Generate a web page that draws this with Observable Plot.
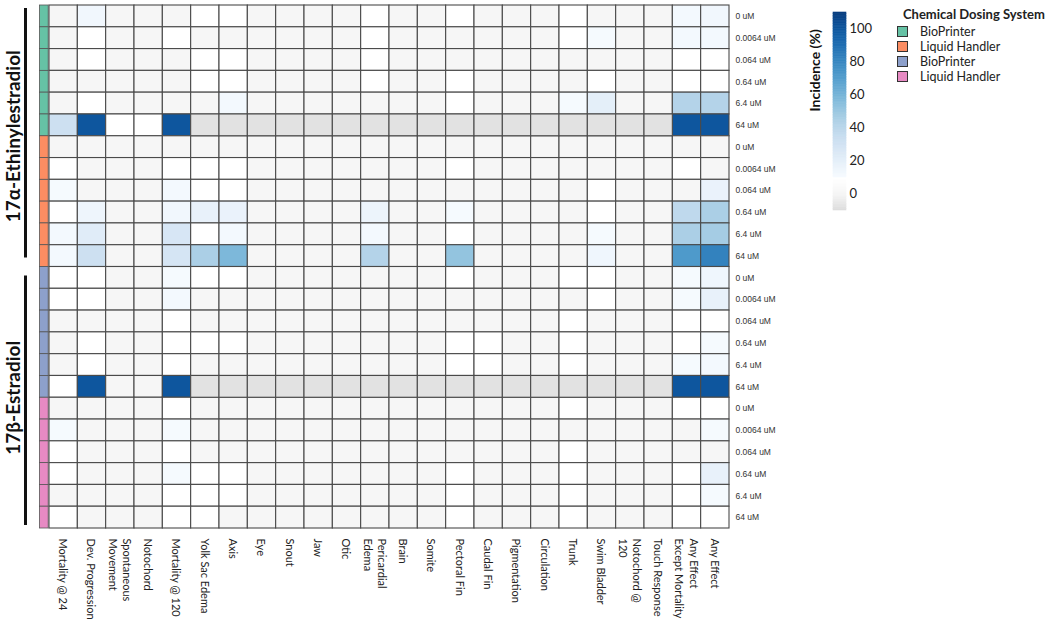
<!DOCTYPE html>
<html><head><meta charset="utf-8">
<script src="https://cdn.jsdelivr.net/npm/d3@7"></script>
<script src="https://cdn.jsdelivr.net/npm/@observablehq/plot@0.6"></script>
<style>
body{margin:0;background:#fff;}
#wrap{position:relative;width:1050px;height:623px;font-family:Lato,sans-serif;overflow:hidden;}
#wrap > *{position:absolute;}
</style></head><body><div id="wrap"></div>
<script>
// ---------- data ----------
const endpoints = ["Mortality @ 24","Dev. Progression","Spontaneous\nMovement","Notochord","Mortality @ 120",
  "Yolk Sac Edema","Axis","Eye","Snout","Jaw","Otic","Pericardial\nEdema","Brain","Somite","Pectoral Fin",
  "Caudal Fin","Pigmentation","Circulation","Trunk","Swim Bladder","Notochord @\n120","Touch Response",
  "Any Effect\nExcept Mortality","Any Effect"];
const doses = ["0 uM","0.0064 uM","0.064 uM","0.64 uM","6.4 uM","64 uM"];
const chemicals = ["17α-Ethinylestradiol","17β-Estradiol"];
const systems = ["BioPrinter","Liquid Handler","BioPrinter","Liquid Handler"];
const systemColors = ["#66c2a5","#fc8d62","#8da0cb","#e78ac3"];
const N = null; // not assessed (shown grey)
const ee2BioPrinter = [
  [0,13,0,0,0,10,10,0,0,0,0,10, 0,0,10,0,0,0,10,0,0,0,12,13],
  [0,10,0,0,10,0,0,0,0,0,0,10, 0,0,0,0,0,0,10,11,0,0,12,12],
  [0,10,0,0,0,10,10,0,0,0,0,10, 0,0,0,0,0,0,0,0,0,0,10,10],
  [0,0,0,0,0,10,10,0,0,0,0,10, 0,0,10,0,0,0,0,10,0,0,10,10],
  [0,10,0,0,0,0,12,0,0,0,0,0, 0,0,10,0,0,0,11,20,0,0,42,42],
  [32,100,10,10,100,N,N,N,N,N,N,N, N,N,N,N,N,N,N,N,N,N,100,100]
];
const ee2LiquidHandler = [
  [0,0,0,0,0,0,0,0,0,0,0,0, 0,0,0,0,0,0,0,0,0,0,0,0],
  [10,0,0,0,10,10,10,0,0,0,0,0, 0,0,10,0,0,0,0,0,0,0,10,0],
  [11,0,0,0,12,10,10,0,0,0,0,0, 0,0,0,0,0,0,0,10,0,0,0,17],
  [10,15,0,0,13,18,17,0,0,0,0,16, 0,0,11,0,0,0,0,10,0,0,38,45],
  [12,22,0,0,27,10,12,0,0,0,0,12, 0,0,10,0,0,0,0,11,0,0,45,47],
  [12,32,0,0,28,45,58,0,0,0,0,42, 0,0,52,0,0,0,0,14,0,0,72,82]
];
const e2BioPrinter = [
  [10,10,0,0,11,10,10,0,0,0,0,0, 0,0,10,0,0,0,10,10,0,0,11,14],
  [10,10,0,0,12,0,0,0,0,0,0,0, 0,0,0,0,0,0,0,10,0,0,11,18],
  [0,0,0,0,10,0,0,0,0,0,0,0, 0,0,0,0,0,0,10,0,0,0,10,10],
  [0,10,0,0,10,10,10,0,0,0,0,0, 0,0,10,10,0,0,10,0,0,0,10,11],
  [0,10,0,0,10,0,0,0,0,0,0,0, 0,0,10,10,0,0,10,0,0,0,11,12],
  [10,100,0,0,100,N,N,N,N,N,N,N, N,N,N,N,N,N,N,N,N,N,100,100]
];
const e2LiquidHandler = [
  [0,0,0,0,10,0,0,0,0,0,0,0, 0,0,0,0,0,0,10,0,0,0,10,10],
  [11,0,0,0,11,0,0,0,0,0,0,0, 0,0,0,0,0,0,0,0,0,0,0,11],
  [10,0,0,0,10,0,0,0,0,0,0,0, 0,0,0,0,0,0,10,0,0,0,0,0],
  [10,0,0,0,11,10,10,0,0,0,0,0, 0,0,10,0,0,0,10,0,0,0,10,18],
  [0,0,0,0,10,10,10,0,0,0,0,0, 0,0,10,0,0,0,10,0,0,0,10,11],
  [10,0,0,0,10,10,0,0,0,0,0,0, 0,0,10,0,0,0,10,0,0,0,10,10]
];
const blocks = [ee2BioPrinter, ee2LiquidHandler, e2BioPrinter, e2LiquidHandler];
const legendTicks = [0,20,40,60,80,100];

// ---------- tables ----------
const rows = [];
const cells = [];
blocks.forEach((block, b) => {
  block.forEach((vals, k) => {
    const r = b * doses.length + k;
    rows.push({r, dose: doses[k], block: b, chem: Math.floor(b / 2)});
    vals.forEach((v, c) => cells.push({r, c, v}));
  });
});
const groups = chemicals.map((name, i) => ({name, start: i * 12, end: i * 12 + 12}));

function incidenceColor(v) {
  if (v <= 0) return d3.interpolateRgb("#dcdcdc", "#f6f6f6")((v + 10) / 10);
  if (v <= 10) return d3.interpolateRgb("#f6f6f6", "#ffffff")(v / 10);
  return d3.interpolateBlues(Math.min(1, (v - 10) / 100 * 0.95));
}
const colorSpec = {type: "linear", domain: [-10, 110], interpolate: t => incidenceColor(-10 + 120 * t)};

const wrap = document.getElementById("wrap");

// ---------- main heatmap ----------
const main = Plot.plot({
  width: 1050, height: 623,
  marginLeft: 49, marginRight: 321, marginTop: 5, marginBottom: 95,
  x: {domain: [0, endpoints.length], axis: null},
  y: {domain: [rows.length, 0], axis: null},
  color: colorSpec,
  style: {fontFamily: "Lato, sans-serif", background: "transparent"},
  marks: [
    Plot.rect(cells.filter(d => d.v != null), {x1: "c", x2: d => d.c + 1, y1: "r", y2: d => d.r + 1,
      fill: "v", stroke: "#4a4a4a", strokeWidth: 1.1}),
    Plot.rect(cells.filter(d => d.v == null), {x1: "c", x2: d => d.c + 1, y1: "r", y2: d => d.r + 1,
      fill: "#e2e2e2", stroke: "#4a4a4a", strokeWidth: 1.1}),
    ...systemColors.map((col, b) => Plot.rect(rows.filter(d => d.block === b), {
      x1: 0, x2: 0, y1: "r", y2: d => d.r + 1, insetLeft: -9.5, insetRight: 0.8,
      fill: col, stroke: "#555", strokeWidth: 0.8})),
    ...groups.map((g, i) => Plot.ruleX([g], {x: 0, y1: "start", y2: "end", dx: -24,
      insetTop: i === 0 ? 3 : 9, insetBottom: i === 0 ? 9 : 3, stroke: "#111", strokeWidth: 3})),
    Plot.text(groups, {x: 0, y: d => (d.start + d.end) / 2, text: "name", rotate: -90, dx: -36,
      fontWeight: "bold", fontSize: 19, fill: "#111"}),
    Plot.text(endpoints, {x: (d, i) => i + 0.5, frameAnchor: "bottom", text: d => d, rotate: 90,
      textAnchor: "start", lineAnchor: "middle", lineHeight: 1.3, dy: 10, fontSize: 11, fill: "#222"}),
    Plot.text(rows, {y: d => d.r + 0.5, frameAnchor: "right", text: "dose", textAnchor: "start",
      dx: 6, fontSize: 8.5, fontFamily: "Liberation Sans, Arial, sans-serif", fill: "#333"})
  ]
});
main.style.left = "0px"; main.style.top = "0px";
wrap.appendChild(main);

// ---------- colour bar ----------
const rampSteps = d3.range(-10, 110, 1);
const bar = Plot.plot({
  width: 100, height: 230,
  marginTop: 12, marginBottom: 20, marginLeft: 43, marginRight: 44,
  y: {domain: [-10, 110], axis: null},
  color: colorSpec,
  style: {fontFamily: "Lato, sans-serif", background: "transparent", overflow: "visible"},
  marks: [
    Plot.barY(rampSteps, {y1: d => d, y2: d => d + 1, fill: d => d + 0.5, stroke: d => d + 0.5, strokeWidth: 0.6}),
    Plot.axisY({anchor: "right", ticks: legendTicks, tickSize: 0, tickPadding: 3, fontSize: 13, label: null, fill: "#222"}),
    Plot.text(["Incidence (%)"], {frameAnchor: "left", rotate: -90, dx: -18, fontWeight: "bold", fontSize: 14, fill: "#111"})
  ]
});
bar.style.left = "790px"; bar.style.top = "0px";
wrap.appendChild(bar);

// ---------- dosing-system legend ----------
const leg = document.createElement("div");
leg.style.cssText = "left:897px;top:6px;color:#222;font-family:Lato,sans-serif;";
const title = document.createElement("div");
title.textContent = "Chemical Dosing System";
title.style.cssText = "font-weight:700;font-size:13px;line-height:16px;margin-left:6px;margin-bottom:2.6px;white-space:nowrap;";
leg.appendChild(title);
systems.forEach((s, i) => {
  const item = document.createElement("div");
  item.style.cssText = "display:flex;align-items:center;height:14.7px;font-size:12.5px;white-space:nowrap;";
  const sw = document.createElement("span");
  sw.style.cssText = `display:inline-block;width:9px;height:9px;border:1px solid #333;background:${systemColors[i]};margin-right:12px;`;
  item.appendChild(sw);
  item.appendChild(document.createTextNode(s));
  leg.appendChild(item);
});
wrap.appendChild(leg);
</script></body></html>
